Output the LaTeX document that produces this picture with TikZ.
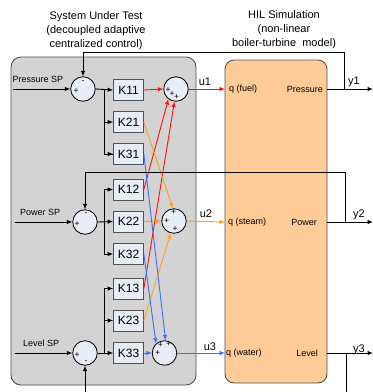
\documentclass[tikz,border=0pt]{standalone}
\usepackage{fontspec}
\setmainfont{Liberation Sans}
\usetikzlibrary{arrows.meta}
\definecolor{boxgray}{HTML}{D3D3D3}
\definecolor{plantfill}{HTML}{FFCC99}
\definecolor{circfill}{HTML}{E8EEF8}
\definecolor{kfill}{HTML}{E6EDF7}
\definecolor{edgegray}{HTML}{505050}
\definecolor{sigred}{HTML}{FF1010}
\definecolor{sigorange}{HTML}{FFA214}
\definecolor{sigblue}{HTML}{3A6EFF}
\begin{document}
\begin{tikzpicture}[x=1pt,y=-1pt,
  >={Latex[length=5.5pt,width=4.5pt]},
  sumnode/.style={circle,draw=black,fill=circfill,minimum size=24.5pt,inner sep=0pt,line width=0.8pt},
  gain/.style={draw=edgegray,fill=kfill,minimum width=30pt,minimum height=21pt,inner sep=0pt,line width=0.7pt,font=\fontsize{12}{12}\selectfont},
  sig/.style={font=\fontsize{8.5}{8.5}\selectfont,inner sep=0pt},
  splab/.style={font=\fontsize{9}{9}\selectfont,inner sep=0pt},
  ulab/.style={font=\fontsize{11}{11}\selectfont,inner sep=0pt},
  title/.style={font=\fontsize{11}{14}\selectfont,align=center,inner sep=0pt},
  wire/.style={line width=0.9pt,draw=black},
  red/.style={line width=0.9pt,draw=sigred},
  org/.style={line width=0.9pt,draw=sigorange},
  blu/.style={line width=0.9pt,draw=sigblue}]
\useasboundingbox (0,0) rectangle (373,392);
% boxes
\node[draw=edgegray,fill=boxgray,rounded corners=10pt,line width=0.9pt,minimum width=185pt,minimum height=328pt,inner sep=0pt] (sut) at (103.5,221) {};
\node[draw=edgegray,fill=plantfill,rounded corners=9pt,line width=0.9pt,minimum width=102pt,minimum height=323pt,inner sep=0pt] (plant) at (276,221.5) {};
% titles
\node[title] (t1) at (96,31) {System Under Test\\(decoupled adaptive\\centralized control)};
\node[title] (t2) at (284,30) {HIL Simulation\\(non-linear\\boiler-turbine\ \ model)};
% sum junctions
\node[sumnode] (sP) at (83,89) {};
\node[sumnode] (sW) at (85,222) {};
\node[sumnode] (sL) at (85,353) {};
\node[sumnode] (o1) at (176,89) {};
\node[sumnode] (o2) at (174,221) {};
\node[sumnode] (o3) at (164.5,353) {};
% gains
\node[gain] (K11) at (128.5,90) {K11};
\node[gain] (K21) at (128.5,122) {K21};
\node[gain] (K31) at (128.5,154) {K31};
\node[gain] (K12) at (128.5,189.5) {K12};
\node[gain] (K22) at (128.5,221.5) {K22};
\node[gain] (K32) at (128.5,254) {K32};
\node[gain] (K13) at (128.5,288.5) {K13};
\node[gain] (K23) at (128.5,320.5) {K23};
\node[gain] (K33) at (128.5,353) {K33};
% signs
\node[sig] (sPm) at (83,82) {-};
\node[sig] (sPp) at (76,91) {+};
\node[sig] (sWm) at (86,214) {-};
\node[sig] (sWp) at (77,224) {+};
\node[sig] (sLp) at (77,355) {+};
\node[sig] (sLm) at (86,362) {-};
\node[sig] (o1a) at (168,90) {+};
\node[sig] (o1b) at (172,94.5) {+};
\node[sig] (o1c) at (176.5,97) {+};
\node[sig] (o2a) at (173.5,212.5) {+};
\node[sig] (o2b) at (166.5,221) {+};
\node[sig] (o2c) at (175,229.5) {+};
\node[sig] (o3a) at (160.5,345.5) {+};
\node[sig] (o3b) at (168.5,344) {+};
\node[sig] (o3c) at (157.5,353.5) {+};
% setpoint inputs
\coordinate (inP) at (13,89);
\coordinate (inW) at (15,222);
\coordinate (inL) at (15,353);
\node[splab,anchor=west] (lP) at (12.5,79.5) {Pressure SP};
\node[splab,anchor=west] (lW) at (20,212.5) {Power SP};
\node[splab,anchor=west] (lL) at (23,343) {Level SP};
\draw[wire,->] (inP) -- (sP.west);
\draw[wire,->] (inW) -- (sW.west);
\draw[wire,->] (inL) -- (sL.west);
% branches
\coordinate (bP) at (104,89);
\coordinate (bW) at (104,222);
\coordinate (bL) at (104,353);
\draw[wire,->] (sP.east) -- (K11.west);
\draw[wire] (bP) |- (K31.west);
\draw[wire,->] (bP |- K21) -- (K21.west);
\draw[wire,->] (bP |- K31) -- (K31.west);
\draw[wire,->] (sW.east) -- (K22.west);
\draw[wire] (bW |- K12) -- (bW |- K32);
\draw[wire,->] (bW |- K12) -- (K12.west);
\draw[wire,->] (bW |- K32) -- (K32.west);
\draw[wire,->] (sL.east) -- (K33.west);
\draw[wire] (bL |- K13) -- (bL);
\draw[wire,->] (bL |- K13) -- (K13.west);
\draw[wire,->] (bL |- K23) -- (K23.west);
% cross couplings
\draw[red,->] (K11.east) -- (o1.west);
\draw[red,->] (K12.east) -- (o1.233);
\draw[red,->] (K13.east) -- (o1.263);
\draw[org,->] (K21.east) -- (o2.95);
\draw[org,->] (K22.east) -- (o2.west);
\draw[org,->] (K23.east) -- (o2.255);
\draw[blu,->] (K31.east) -- (o3.85);
\draw[blu,->] (K32.east) -- (o3.132);
\draw[blu,->] (K33.east) -- (o3.west);
% control signals
\coordinate (pin1) at (225,89);
\coordinate (pin2) at (225,222);
\coordinate (pin3) at (225,353);
\draw[red,->] (o1.east) -- (pin1);
\draw[org,->] (o2.east) -- (pin2);
\draw[blu,->] (o3.east) -- (pin3);
\node[ulab] (u1) at (205,82) {u1};
\node[ulab] (u2) at (206,214) {u2};
\node[ulab] (u3) at (210,347) {u3};
% plant texts
\node[splab,anchor=west] (q1) at (229,89) {q (fuel)};
\node[splab,anchor=west] (q2) at (228,222) {q (steam)};
\node[splab,anchor=west] (q3) at (226,353) {q (water)};
\node[splab,anchor=east] (p1) at (323,89) {Pressure};
\node[splab,anchor=east] (p2) at (317,222) {Power};
\node[splab,anchor=east] (p3) at (318,353) {Level};
% outputs
\coordinate (pout1) at (327,89);
\coordinate (pout2) at (327,222);
\coordinate (pout3) at (327,353);
\coordinate (y1e) at (373,89);
\coordinate (y2e) at (373,222);
\coordinate (y3e) at (373,353);
\draw[wire,->] (pout1) -- (y1e);
\draw[wire,->] (pout2) -- (y2e);
\draw[wire,->] (pout3) -- (y3e);
\node[ulab] (y1) at (354,82) {y1};
\node[ulab] (y2) at (359,215) {y2};
\node[ulab] (y3) at (359,350) {y3};
% feedback
\coordinate (f1) at (344,89);
\coordinate (f2) at (345,222);
\coordinate (f3) at (346,353);
\coordinate (f3b) at (346,392);
\coordinate (f3l) at (85,392);
\draw[wire,->] (f1) -- ++(0,-37) -| (sP.north);
\draw[wire,->] (f2) -- ++(0,-50) -| (sW.north);
\draw[wire] (f3) -- (f3b);
\draw[wire,->] (f3l) -- (sL.south);
\end{tikzpicture}
\end{document}
